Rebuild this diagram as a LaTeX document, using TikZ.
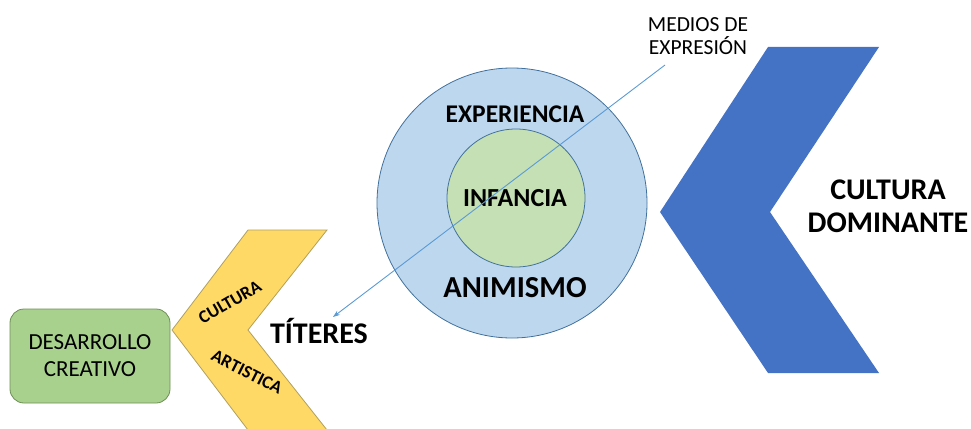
\documentclass[tikz,border=0pt]{standalone}
\usepackage{fontspec}
\setmainfont{Carlito}
\usetikzlibrary{arrows.meta}
\definecolor{chevblue}{HTML}{4472C4}
\definecolor{chevyellow}{HTML}{FFD966}
\definecolor{yellowline}{HTML}{B0A060}
\definecolor{outerblue}{HTML}{BDD7EE}
\definecolor{innergreen}{HTML}{C5E0B4}
\definecolor{ringline}{HTML}{41719C}
\definecolor{boxgreen}{HTML}{A9D18E}
\definecolor{boxline}{HTML}{6E8F57}
\definecolor{arrowblue}{HTML}{5B9BD5}
\newcommand{\fs}[1]{\fontsize{#1}{#1}\selectfont}
\tikzset{
  lbl/.style={inner sep=0pt, align=center, font=\fs{25.5}\bfseries},
  pointer/.style={draw=arrowblue, line width=0.9pt, -{Stealth[length=7pt,width=5pt]}}
}
\begin{document}
\begin{tikzpicture}[x=1pt,y=-1pt]
    \useasboundingbox (0,0) rectangle (971,428);
    % chevrons
    \fill[chevblue] (768,47)--(879,47)--(770,212)--(879,373)--(768,373)--(660,212)--cycle;
    \begin{scope}
    \clip (0,0) rectangle (971,428);
    \draw[fill=chevyellow, draw=yellowline, line width=0.8pt] (248,230)--(327,230)--(248,330)--(327,430)--(248,430)--(172,330)--cycle;
    \end{scope}
    % circles
    \node[circle, draw=ringline, fill=outerblue, line width=0.8pt, minimum size=270pt, inner sep=0pt] (outer) at (512,203) {};
    \node[circle, draw=ringline, fill=innergreen, line width=0.8pt, minimum size=138pt, inner sep=0pt] (inner) at (516,198) {};
    % box
    \node[draw=boxline, fill=boxgreen, line width=0.8pt, rounded corners=14pt, minimum width=160pt, minimum height=94pt, align=center, font=\fs{23}] (desarrollo) at (90,356) {DESARROLLO\\[4pt]CREATIVO};
    % labels
    \node[lbl] (experiencia) at (515,114) {EXPERIENCIA};
    \node[lbl, font=\fs{26}\bfseries] (infancia) at (515,198) {INFANCIA};
    \node[lbl, font=\fs{30.5}\bfseries] (animismo) at (515,288) {ANIMISMO};
    \node[lbl, font=\fs{30}\bfseries] (dominante) at (888,206) {CULTURA\\[3pt]DOMINANTE};
    \node[lbl, font=\fs{30}\bfseries] (titeres) at (319,331) {TÍTERES};
    \node[lbl, font=\fs{21.5}] (medios) at (698,36) {MEDIOS DE\\[1pt]EXPRESIÓN};
    \node[lbl, font=\fs{18}\bfseries, rotate=30] (cultura) at (230,302) {CULTURA};
    \node[lbl, font=\fs{18}\bfseries, rotate=-27] (artistica) at (247,372) {ARTISTICA};
    % arrow
    \coordinate (mstart) at (665,65);
    \coordinate (tip) at (333,317);
    \draw[pointer] (mstart) -- (tip);
\end{tikzpicture}
\end{document}
